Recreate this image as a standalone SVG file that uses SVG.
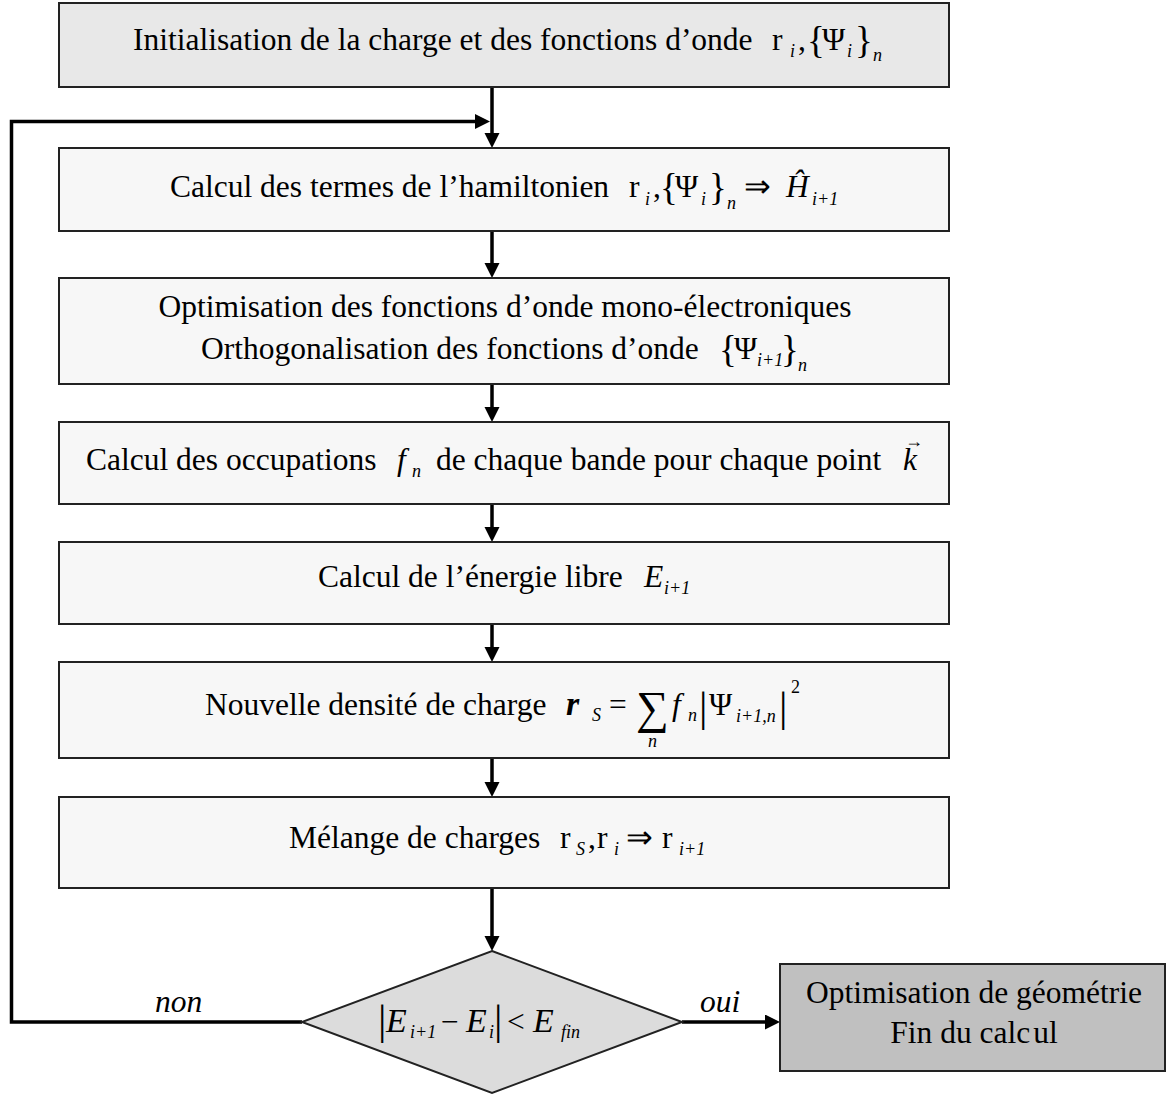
<svg xmlns="http://www.w3.org/2000/svg" width="1170" height="1095" viewBox="0 0 1170 1095">
<style>
text{font-family:"Liberation Serif","Times New Roman",serif;font-size:31.5px;fill:#000}
.it{font-style:italic}
.sub{font-size:18px;font-style:italic}
.br{font-size:37px}
.bar{font-size:42px}
.box{fill:#f7f7f7;stroke:#222;stroke-width:2}
.conn{stroke:#000;stroke-width:3.5;fill:none;marker-end:url(#ah)}
</style>
<defs>
<marker id="ah" markerUnits="userSpaceOnUse" markerWidth="16" markerHeight="16" refX="5" refY="7.5" orient="auto">
<path d="M0,0 L15,7.5 L0,15 z" fill="#000"/>
</marker>
</defs>
<rect width="1170" height="1095" fill="#fff"/>

<g id="connectors">
<line class="conn" x1="492" y1="87" x2="492" y2="138"/>
<path class="conn" d="M302,1022 H11.5 V121.5 H480"/>
<line class="conn" x1="492" y1="231" x2="492" y2="268"/>
<line class="conn" x1="492" y1="384" x2="492" y2="412"/>
<line class="conn" x1="492" y1="504" x2="492" y2="532"/>
<line class="conn" x1="492" y1="624" x2="492" y2="652"/>
<line class="conn" x1="492" y1="758" x2="492" y2="787"/>
<line class="conn" x1="492" y1="888" x2="492" y2="941"/>
<line class="conn" x1="682" y1="1022" x2="770" y2="1022"/>
<text class="it" x="155" y="1012">non</text>
<text class="it" x="700" y="1012">oui</text>
</g>

<g id="init">
<rect x="59" y="3" width="890" height="84" fill="#e8e8e8" stroke="#222" stroke-width="2"/>
<text x="133" y="50">Initialisation de la charge et des fonctions d’onde</text>
<text x="772" y="50">r</text><text class="sub" x="790" y="57">i</text><text x="798" y="50">,</text>
<text class="br" x="807" y="53">{</text><text x="822" y="50">Ψ</text><text class="sub" x="847" y="57">i</text>
<text class="br" x="855" y="53">}</text><text class="sub" x="873" y="61">n</text>
</g>

<g id="hamiltonien">
<rect class="box" x="59" y="148" width="890" height="83"/>
<text x="170" y="197">Calcul des termes de l’hamiltonien</text>
<text x="629" y="197">r</text><text class="sub" x="645" y="205">i</text><text x="653" y="197">,</text>
<text class="br" x="660" y="200">{</text><text x="675" y="197">Ψ</text><text class="sub" x="701" y="205">i</text>
<text class="br" x="709" y="200">}</text><text class="sub" x="727" y="209">n</text>
<text x="744" y="197">⇒</text>
<text class="it" x="786" y="197">Ĥ</text>
<text class="sub" x="812" y="205">i+1</text>
</g>

<g id="optimisation">
<rect class="box" x="59" y="278" width="890" height="106"/>
<text x="505" y="317" text-anchor="middle">Optimisation des fonctions d’onde mono-électroniques</text>
<text x="201" y="359">Orthogonalisation des fonctions d’onde</text>
<text class="br" x="719" y="362">{</text><text x="734" y="359">Ψ</text><text class="sub" x="757" y="366">i+1</text>
<text class="br" x="781" y="362">}</text><text class="sub" x="798" y="371">n</text>
</g>

<g id="occupations">
<rect class="box" x="59" y="422" width="890" height="82"/>
<text x="86" y="470">Calcul des occupations</text>
<text class="it" x="397" y="470">f</text><text class="sub" x="412" y="477">n</text>
<text x="436" y="470">de chaque bande pour chaque point</text>
<text class="it" x="903" y="470">k</text>
<text x="905" y="447" style="font-size:18px">→</text>
</g>

<g id="energie">
<rect class="box" x="59" y="542" width="890" height="82"/>
<text x="318" y="587">Calcul de l’énergie libre</text>
<text class="it" x="644" y="587">E</text><text class="sub" x="664" y="594">i+1</text>
</g>

<g id="densite">
<rect class="box" x="59" y="662" width="890" height="96"/>
<text x="205" y="715">Nouvelle densité de charge</text>
<text class="it" x="566" y="715" style="font-weight:bold;font-size:34px">r</text><text class="sub" x="592" y="721">S</text>
<text x="609" y="715">=</text>
<text x="636" y="723" style="font-size:46px">∑</text>
<text class="sub" x="648" y="747">n</text>
<text class="it" x="672" y="715">f</text><text class="sub" x="688" y="721">n</text>
<text class="bar" x="699" y="721">|</text>
<text x="709" y="715">Ψ</text><text class="sub" x="736" y="722">i+1,n</text>
<text class="bar" x="779" y="721">|</text>
<text x="791" y="693" style="font-size:18px">2</text>
</g>

<g id="melange">
<rect class="box" x="59" y="797" width="890" height="91"/>
<text x="289" y="848">Mélange de charges</text>
<text x="560" y="848">r</text><text class="sub" x="576" y="855">S</text><text x="588" y="848">,</text>
<text x="597" y="848">r</text><text class="sub" x="614" y="855">i</text>
<text x="626" y="848">⇒</text>
<text x="662" y="848">r</text><text class="sub" x="679" y="855">i+1</text>
</g>

<g id="test">
<polygon points="492,951 682,1022 492,1093 302,1022" fill="#dcdcdc" stroke="#222" stroke-width="2"/>
<text class="bar" x="378" y="1034">|</text>
<text class="it" x="386" y="1032" style="font-size:34px">E</text><text class="sub" x="410" y="1038">i+1</text>
<text x="441" y="1032">−</text>
<text class="it" x="466" y="1032" style="font-size:34px">E</text><text class="sub" x="489" y="1038">i</text>
<text class="bar" x="494" y="1034">|</text>
<text x="507" y="1032">&lt;</text>
<text class="it" x="533" y="1032" style="font-size:34px">E</text><text class="sub" x="561" y="1038">fin</text>
</g>

<g id="fin">
<rect x="780" y="964" width="385" height="107" fill="#c0c0c0" stroke="#222" stroke-width="2"/>
<text x="974" y="1003" text-anchor="middle">Optimisation de géométrie</text>
<text x="974" y="1043" text-anchor="middle">Fin du calc<tspan dx="3">ul</tspan></text>
</g>
</svg>
